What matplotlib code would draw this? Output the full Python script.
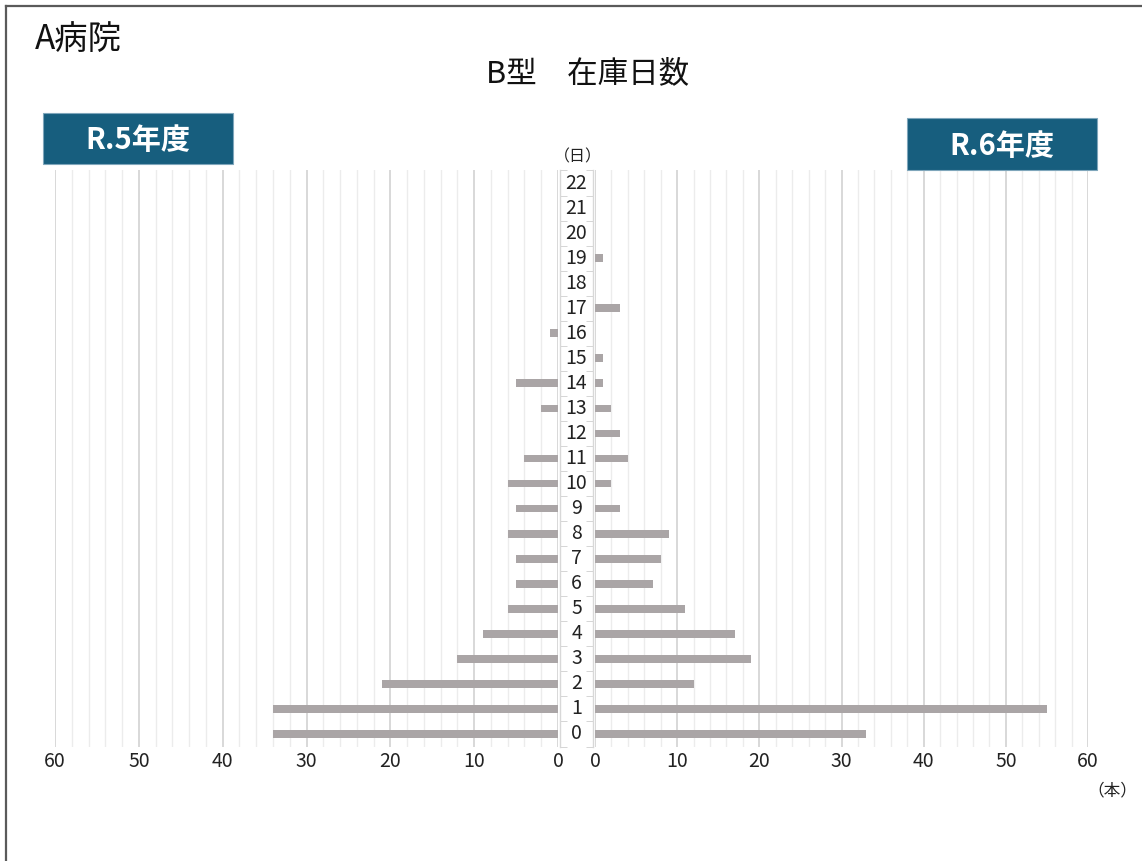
import numpy as np
import matplotlib
matplotlib.use("Agg")
import matplotlib.pyplot as plt
from matplotlib.patches import Rectangle
from matplotlib.lines import Line2D
from matplotlib.transforms import blended_transform_factory

plt.rcParams['font.family'] = ['Noto Sans CJK JP', 'DejaVu Sans']

# Days in stock (0..22) and number of units per fiscal year
days = list(range(23))
r5_counts = [34, 34, 21, 12, 9, 6, 5, 5, 6, 5, 6, 4, 0, 2, 5, 0, 1, 0, 0, 0, 0, 0, 0]
r6_counts = [33, 55, 12, 19, 17, 11, 7, 8, 9, 3, 2, 4, 3, 2, 1, 1, 0, 3, 0, 1, 0, 0, 0]
x_ticks = [0, 10, 20, 30, 40, 50, 60]

hospital = "A病院"
title = "B型　在庫日数"
left_label = "R.5年度"
right_label = "R.6年度"
y_unit = "（日）"
x_unit = "（本）"

W, H = 1142, 861
fig = plt.figure(figsize=(W / 100, H / 100), dpi=100)
fig.patch.set_facecolor("white")

bar_color = "#aaa5a6"
minor_grid = "#ececec"
major_grid = "#d2d2d2"
badge_color = "#175e7e"
text_color = "#222222"


def fx(px):
    return px / W


def fy(px):
    return 1 - px / H


ax_bottom_px, ax_top_px = 746.5, 170.5
ax_b = fy(ax_bottom_px)
ax_h = (ax_bottom_px - ax_top_px) / H

ax_l = fig.add_axes([fx(55), ax_b, fx(558 - 55), ax_h])
ax_r = fig.add_axes([fx(595), ax_b, fx(1088 - 595), ax_h])
ax_c = fig.add_axes([fx(560), ax_b, fx(593 - 560), ax_h])


def style_side(ax, invert):
    ax.set_ylim(-0.5, 22.5)
    if invert:
        ax.set_xlim(60, 0)
    else:
        ax.set_xlim(0, 60)
    for s in ax.spines.values():
        s.set_visible(False)
    ax.set_yticks([])
    ax.set_xticks(x_ticks)
    ax.set_xticklabels([str(v) for v in x_ticks])
    ax.set_xticks(np.arange(0, 61, 2), minor=True)
    ax.tick_params(axis="x", which="both", length=0, pad=3,
                   labelsize=14, labelcolor=text_color)
    ax.grid(axis="x", which="minor", color=minor_grid, linewidth=1.0)
    ax.grid(axis="x", which="major", color=major_grid, linewidth=1.2)
    ax.set_axisbelow(True)
    ax.patch.set_alpha(0)


style_side(ax_l, invert=True)
style_side(ax_r, invert=False)

ax_l.barh(days, r5_counts, height=0.31, color=bar_color, zorder=3)
ax_r.barh(days, r6_counts, height=0.31, color=bar_color, zorder=3)

# Central day-label column
ax_c.set_ylim(-0.5, 22.5)
ax_c.set_xlim(0, 1)
ax_c.set_xticks([])
ax_c.set_yticks([])
ax_c.set_yticks(np.arange(-0.5, 23, 1), minor=True)
ax_c.tick_params(axis="y", which="minor", direction="in", length=5,
                 color="#cfcfcf", left=True, right=True, labelleft=False)
for side in ("top", "bottom"):
    ax_c.spines[side].set_visible(False)
for side in ("left", "right"):
    ax_c.spines[side].set_color("#d8d8d8")
    ax_c.spines[side].set_linewidth(1.0)
ax_c.patch.set_facecolor("white")
trans = blended_transform_factory(ax_c.transAxes, ax_c.transData)
for d in days:
    ax_c.text(0.5, d, str(d), transform=trans, ha="center", va="center",
              fontsize=14, color=text_color)

# Titles and labels
fig.text(fx(35), fy(39), hospital, ha="left", va="center", fontsize=24, color="#111111")
fig.text(fx(588), fy(74), title, ha="center", va="center", fontsize=22, color="#111111")
fig.text(fx(578), fy(157), y_unit, ha="center", va="center", fontsize=11.5, color=text_color)
fig.text(fx(1112), fy(791), x_unit, ha="center", va="center", fontsize=12, color=text_color)

# Year badges
for (x0, y0, x1, y1), label in (((43, 113, 233, 164), left_label),
                                ((907, 118, 1097, 170), right_label)):
    fig.patches.append(Rectangle((fx(x0), fy(y1)), fx(x1 - x0), (y1 - y0) / H,
                                 transform=fig.transFigure, facecolor=badge_color,
                                 edgecolor="#7fa6bb", linewidth=0.8, zorder=5))
    fig.text(fx((x0 + x1) / 2), fy((y0 + y1) / 2 + 2), label, ha="center", va="center",
             fontsize=21, color="white", fontweight="bold", zorder=6)

# Outer frame (left and top edges)
fig.lines.append(Line2D([fx(5.5), fx(5.5)], [0, fy(5.5)], transform=fig.transFigure,
                        color="#5a5a5a", linewidth=1.6))
fig.lines.append(Line2D([fx(5.5), 1], [fy(5.5), fy(5.5)], transform=fig.transFigure,
                        color="#5a5a5a", linewidth=1.6))

fig.savefig("out.png", dpi=100, facecolor="white")
